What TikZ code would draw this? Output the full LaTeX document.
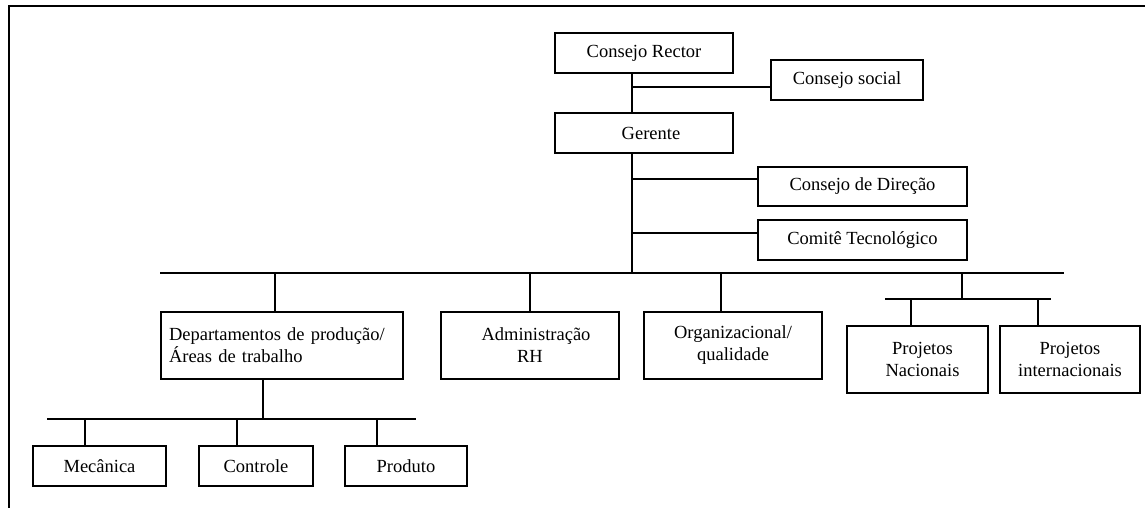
\documentclass[tikz,border=0pt]{standalone}
\usepackage{fontspec}
\setmainfont{Liberation Serif}
\begin{document}
\begin{tikzpicture}[x=1pt,y=-1pt,
  box/.style={draw, line width=1.2pt, inner sep=0pt, outer sep=0pt, align=center,
    font=\fontsize{18.5}{22}\selectfont},
  conn/.style={line width=1.2pt}]
\useasboundingbox (0,0) rectangle (1145,508);
\fill[white] (0,0) rectangle (1145,508);
% frame
\draw[line width=2pt] (8.5,508) -- (8.5,6.5) -- (1145,6.5);
% top nodes
\node[box, minimum width=178, minimum height=40] (cr) at (644,53) {Consejo Rector};
\node[box, minimum width=152, minimum height=40] (soc) at (847,80) {Consejo social};
\node[box, minimum width=178, minimum height=40] (ger) at (644,133) {\hspace*{14pt}Gerente};
\node[box, minimum width=209, minimum height=39] (dir) at (862.5,186.5) {Consejo de Direção};
\node[box, minimum width=209, minimum height=40] (com) at (862.5,240) {Comitê Tecnológico};
% second level
\node[box, minimum width=242, minimum height=67, align=left, text width=226, inner xsep=8pt] (dep) at (282,345.5) {Departamentos de produção/\\Áreas de trabalho};
\node[box, minimum width=178, minimum height=67] (adm) at (530,345.5) {\hspace*{12pt}Administração\\RH};
\node[box, minimum width=178, minimum height=67] (org) at (733,345.5) {Organizacional/\\qualidade};
\node[box, minimum width=141, minimum height=67] (pn) at (917.5,359.5) {\hspace*{10pt}Projetos\\\hspace*{10pt}Nacionais};
\node[box, minimum width=140, minimum height=67] (pi) at (1070,359.5) {Projetos\\internacionais};
% third level
\node[box, minimum width=133, minimum height=40] (mec) at (99.5,466) {Mecânica};
\node[box, minimum width=114, minimum height=40] (ctl) at (256,466) {Controle};
\node[box, minimum width=122, minimum height=40] (prd) at (406,466) {Produto};
% coordinates
\coordinate (t) at (632,0);
\coordinate (j1) at (632,87);
\coordinate (j2) at (632,179);
\coordinate (j3) at (632,233);
\coordinate (barL) at (160,273);
\coordinate (barR) at (1064,273);
\coordinate (trunk) at (632,273);
\coordinate (bd) at (275,273);
\coordinate (ba) at (530,273);
\coordinate (bo) at (721,273);
\coordinate (bp) at (962,273);
\coordinate (pbar) at (962,299);
\coordinate (pL) at (885,299);
\coordinate (pR) at (1051,299);
\coordinate (sd) at (263,0);
\coordinate (sub) at (263,419);
\coordinate (sL) at (47,419);
\coordinate (sR) at (416,419);
% connectors top
\draw[conn] (cr.south -| t) -- (ger.north -| t);
\draw[conn] (ger.south -| t) -- (trunk);
\draw[conn] (j1) -- (j1 -| soc.west);
\draw[conn] (j2) -- (j2 -| dir.west);
\draw[conn] (j3) -- (j3 -| com.west);
% main bar
\draw[conn] (barL) -- (barR);
\draw[conn] (bd) -- (bd |- dep.north);
\draw[conn] (ba) -- (ba |- adm.north);
\draw[conn] (bo) -- (bo |- org.north);
\draw[conn] (bp) -- (pbar);
% projects bar
\draw[conn] (pL) -- (pR);
\draw[conn] (911,299) -- (911,299 |- pn.north);
\draw[conn] (1038,299) -- (1038,299 |- pi.north);
% sub bar
\draw[conn] (dep.south -| sd) -- (sub);
\draw[conn] (sL) -- (sR);
\draw[conn] (85,419) -- (85,419 |- mec.north);
\draw[conn] (237,419) -- (237,419 |- ctl.north);
\draw[conn] (377,419) -- (377,419 |- prd.north);
\end{tikzpicture}
\end{document}
